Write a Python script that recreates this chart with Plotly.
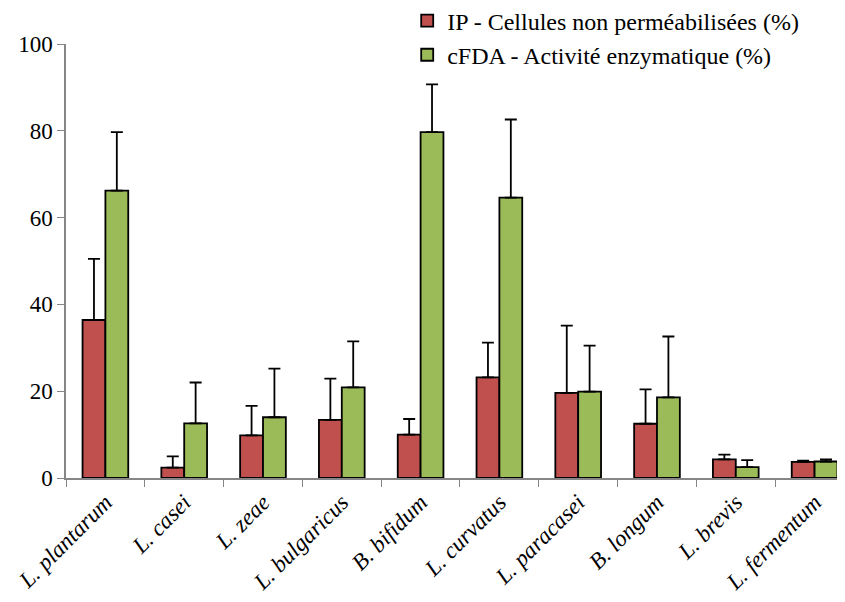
import plotly.graph_objects as go

categories = ["L. plantarum", "L. casei", "L. zeae", "L. bulgaricus", "B. bifidum",
              "L. curvatus", "L. paracasei", "B. longum", "L. brevis", "L. fermentum"]
ip_values = [36.4, 2.4, 9.8, 13.4, 10.0, 23.2, 19.6, 12.5, 4.3, 3.7]
ip_errors = [14.1, 2.6, 6.8, 9.5, 3.6, 8.0, 15.5, 7.9, 1.1, 0.3]
cfda_values = [66.2, 12.6, 14.0, 20.9, 79.7, 64.6, 19.9, 18.6, 2.5, 3.8]
cfda_errors = [13.5, 9.4, 11.2, 10.6, 11.0, 18.0, 10.6, 14.0, 1.6, 0.5]
y_ticks = [0, 20, 40, 60, 80, 100]

FONT = "Times New Roman"

def err(arr):
    return dict(type="data", symmetric=False, array=arr, arrayminus=[0] * len(arr),
                color="black", thickness=1.8, width=6)

fig = go.Figure()
fig.add_trace(go.Bar(x=categories, y=ip_values, name="IP - Cellules non perméabilisées (%)",
                     marker=dict(color="#C0504D", line=dict(color="black", width=1.8)),
                     error_y=err(ip_errors)))
fig.add_trace(go.Bar(x=categories, y=cfda_values, name="cFDA - Activité enzymatique (%)",
                     marker=dict(color="#9BBB59", line=dict(color="black", width=1.8)),
                     error_y=err(cfda_errors)))

fig.update_layout(
    width=845, height=602,
    margin=dict(l=58, r=8, t=36, b=132, autoexpand=False),
    paper_bgcolor="white", plot_bgcolor="white",
    barmode="group", bargap=0.42, bargroupgap=0,
    font=dict(family=FONT, size=21, color="black"),
    showlegend=True,
    legend=dict(x=0.438, y=1.105, xanchor="left", yanchor="top",
                font=dict(family=FONT, size=24, color="black"), bgcolor="rgba(0,0,0,0)",
                tracegroupgap=0, itemwidth=30),
    xaxis=dict(range=[-0.5, 9.386], showline=True, linecolor="#868686", linewidth=1.5,
               ticks="outside", tickson="boundaries", ticklen=7, tickcolor="#868686",
               tickangle=-45, tickfont=dict(family=FONT, size=23, style="italic"),
               showgrid=False, zeroline=False, automargin=False),
    yaxis=dict(range=[0, 100], tickvals=y_ticks, showline=True, linecolor="#868686",
               linewidth=1.5, ticks="outside", ticklen=7, tickcolor="#868686",
               tickfont=dict(family=FONT, size=23), showgrid=False, zeroline=False,
               automargin=False),
)

fig.write_html("out.html")
